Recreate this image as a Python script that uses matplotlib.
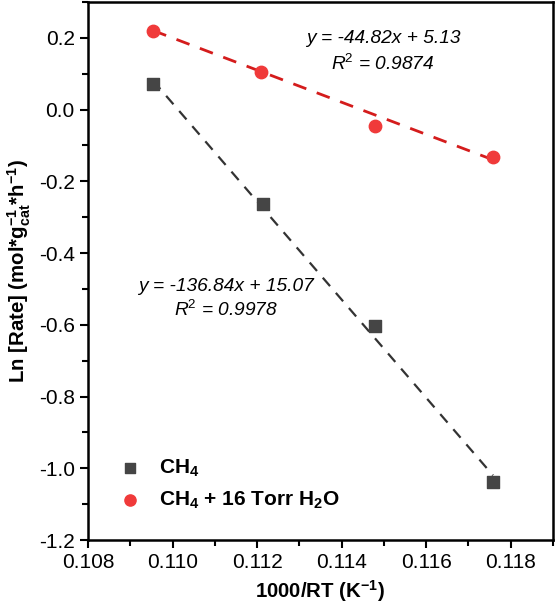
import numpy as np
import matplotlib.pyplot as plt
from matplotlib.ticker import MultipleLocator

plt.rcParams['font.family'] = ['Liberation Sans', 'DejaVu Sans']
plt.rcParams['mathtext.fontset'] = 'custom'
plt.rcParams['mathtext.rm'] = 'Liberation Sans'
plt.rcParams['mathtext.it'] = 'Liberation Sans:italic'
plt.rcParams['mathtext.bf'] = 'Liberation Sans:bold'

# data
x_ch4 = [0.10954, 0.11213, 0.11479, 0.11758]
y_ch4 = [0.070, -0.262, -0.604, -1.038]
x_h2o = [0.10954, 0.11210, 0.11479, 0.11758]
y_h2o = [0.220, 0.106, -0.045, -0.131]

# slope, intercept, R^2 as printed on the chart
fit_ch4 = (-136.84, 15.07, 0.9978)
fit_h2o = (-44.82, 5.13, 0.9874)

fig = plt.figure(figsize=(5.55, 6.05), dpi=100)
ax = fig.add_axes([0.1586, 0.1074, 0.8378, 0.8893])

# linear fits (dashed)
xs = np.array([x_ch4[0], x_ch4[-1]])
ax.plot(xs, fit_ch4[0] * xs + fit_ch4[1], ls=(0, (5, 4)), color='#333333',
        lw=1.6, zorder=2)
xs = np.array([x_h2o[0], x_h2o[-1]])
ax.plot(xs, fit_h2o[0] * xs + fit_h2o[1], ls=(0, (5, 4)), color='#d41c1c',
        lw=2.0, zorder=2)

ax.scatter(x_ch4, y_ch4, marker='s', s=65, color='#454545', zorder=3,
           label='CH$_\\mathbf{4}$')
ax.scatter(x_h2o, y_h2o, marker='o', s=80, color='#f03a3a', zorder=3,
           label='CH$_\\mathbf{4}$ + 16 Torr H$_\\mathbf{2}$O')

fs = 13.8
ax.text(0.11498, 0.197, 'y = %.2fx + %.2f' % (fit_h2o[0], fit_h2o[1]),
        style='italic', fontsize=fs, ha='center', va='center')
ax.text(0.11498, 0.128, 'R$^2$ = %.4f' % fit_h2o[2],
        style='italic', fontsize=fs, ha='center', va='center')
ax.text(0.11126, -0.492, 'y = %.2fx + %.2f' % (fit_ch4[0], fit_ch4[1]),
        style='italic', fontsize=fs, ha='center', va='center')
ax.text(0.11126, -0.558, 'R$^2$ = %.4f' % fit_ch4[2],
        style='italic', fontsize=fs, ha='center', va='center')

ax.set_xlim(0.108, 0.119)
ax.set_ylim(-1.2, 0.3)
ax.xaxis.set_major_locator(MultipleLocator(0.002))
ax.xaxis.set_minor_locator(MultipleLocator(0.001))
ax.yaxis.set_major_locator(MultipleLocator(0.2))
ax.yaxis.set_minor_locator(MultipleLocator(0.1))
ax.xaxis.set_major_formatter(plt.FuncFormatter(lambda v, _: '%.3f' % v))
ax.yaxis.set_major_formatter(plt.FuncFormatter(lambda v, _: '%.1f' % v))
ax.tick_params(which='major', length=6, width=1.5, labelsize=15, direction='out')
ax.tick_params(which='minor', length=4, width=1.5, direction='out')
for s in ax.spines.values():
    s.set_linewidth(1.8)

ax.set_xlabel('1000/RT (K$^{\\mathbf{-1}}$)', fontsize=14.7, fontweight='bold',
              labelpad=4)
ax.set_ylabel('Ln [Rate] (mol*g$_{\\mathbf{cat}}^{\\mathbf{-1}}$*h$^{\\mathbf{-1}}$)',
              fontsize=14.7, fontweight='bold', labelpad=4)

leg = ax.legend(loc='lower left', bbox_to_anchor=(0.005, 0.02), frameon=False,
                prop={'weight': 'bold', 'size': 15}, handletextpad=0.4,
                labelspacing=0.5, markerscale=0.9)

fig.savefig('out.png', dpi=100)
